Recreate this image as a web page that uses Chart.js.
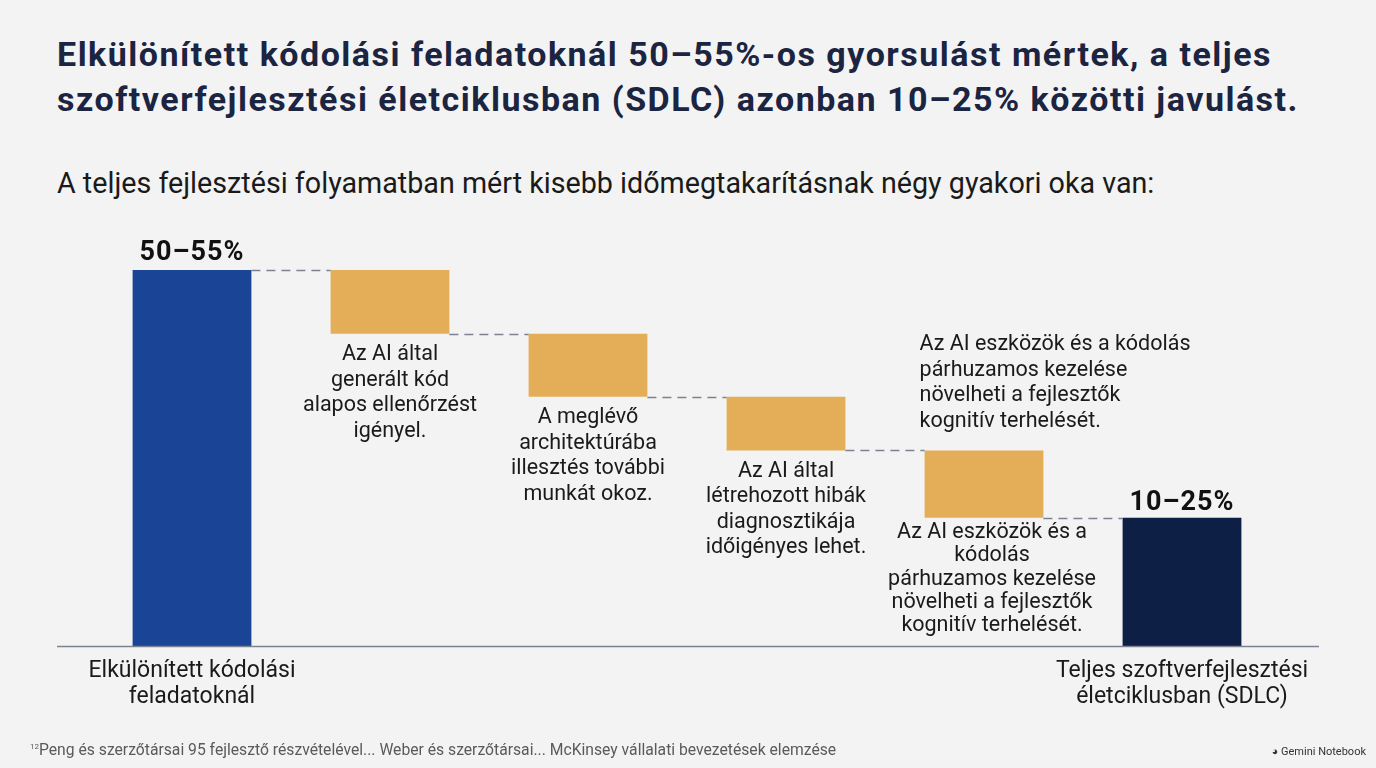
<!DOCTYPE html>
<html lang="hu">
<head>
<meta charset="utf-8">
<title>Waterfall</title>
<script src="https://cdn.jsdelivr.net/npm/chart.js@4.4.1/dist/chart.umd.min.js"></script>
<style>
  html, body { margin: 0; padding: 0; }
  body { width: 1376px; height: 768px; background: #f3f3f3; position: relative; overflow: hidden; font-family: Roboto, "Noto Sans", sans-serif; }
  #title { position: absolute; left: 57px; top: 32px; margin: 0; font-size: 34px; line-height: 45px; font-weight: 700; letter-spacing: 1.5px; color: #1b2440; white-space: nowrap; }
  #subtitle { position: absolute; left: 57px; top: 164px; margin: 0; font-size: 28.7px; line-height: 38px; color: #1a1a1a; white-space: nowrap; }
  #chart { position: absolute; left: 0; top: 0; }
  #note { position: absolute; left: 30px; top: 740px; font-size: 15.7px; color: #5a5a5a; white-space: nowrap; }
  #note sup { font-size: 8px; vertical-align: 6px; }
  #brand { position: absolute; right: 10px; top: 745px; font-size: 11px; color: #333; }
</style>
</head>
<body>
<h1 id="title">Elkülönített kódolási feladatoknál 50–55%-os gyorsulást mértek, a teljes<br>szoftverfejlesztési életciklusban (SDLC) azonban 10–25% közötti javulást.</h1>
<p id="subtitle">A teljes fejlesztési folyamatban mért kisebb időmegtakarításnak négy gyakori oka van:</p>
<canvas id="chart" width="1376" height="768"></canvas>
<div id="note"><sup>12</sup>Peng és szerzőtársai 95 fejlesztő részvételével... Weber és szerzőtársai... McKinsey vállalati bevezetések elemzése</div>
<div id="brand">&#9685; Gemini Notebook</div>
<script>
// categories (only the first and last carry an axis label)
const categories = [
  ['Elkülönített kódolási', 'feladatoknál'],
  '', '', '', '',
  ['Teljes szoftverfejlesztési', 'életciklusban (SDLC)']
];

// running level after each step (start, after each of the 4 reasons = end)
const levels = [52.5, 43.6, 34.8, 27.3, 17.9];

// labels above the total bars
const totalLabels = ['50–55%', '10–25%'];

// texts under the reason bars
const reasonTexts = [
  ['Az AI által', 'generált kód', 'alapos ellenőrzést', 'igényel.'],
  ['A meglévő', 'architektúrába', 'illesztés további', 'munkát okoz.'],
  ['Az AI által', 'létrehozott hibák', 'diagnosztikája', 'időigényes lehet.'],
  ['Az AI eszközök és a', 'kódolás', 'párhuzamos kezelése', 'növelheti a fejlesztők', 'kognitív terhelését.']
];

// text above the last reason bar
const lastReasonTop = ['Az AI eszközök és a kódolás', 'párhuzamos kezelése', 'növelheti a fejlesztők', 'kognitív terhelését.'];

const yMax = 55;

// floating bars built from the levels
const barData = [[0, levels[0]]];
for (let i = 1; i < levels.length; i++) {
  barData.push([levels[i], levels[i - 1]]);
}
barData.push([0, levels[levels.length - 1]]);

const barColors = ['#1a4597', '#e3ae57', '#e3ae57', '#e3ae57', '#e3ae57', '#0d1f44'];

const waterfallPlugin = {
  id: 'waterfall',
  afterDatasetsDraw(chart) {
    const ctx = chart.ctx;
    const meta = chart.getDatasetMeta(0);
    const y = chart.scales.y;
    const area = chart.chartArea;

    ctx.save();

    // baseline
    ctx.strokeStyle = '#7c8292';
    ctx.lineWidth = 1.5;
    ctx.beginPath();
    ctx.moveTo(57, area.bottom + 0.5);
    ctx.lineTo(1319, area.bottom + 0.5);
    ctx.stroke();

    // dashed connectors
    ctx.setLineDash([9, 6]);
    for (let i = 0; i < meta.data.length - 1; i++) {
      const a = meta.data[i];
      const b = meta.data[i + 1];
      const yy = Math.round(y.getPixelForValue(levels[i])) + 0.5;
      ctx.beginPath();
      ctx.moveTo(a.x + a.width / 2, yy);
      ctx.lineTo(b.x - b.width / 2, yy);
      ctx.stroke();
    }
    ctx.setLineDash([]);

    // total labels
    ctx.fillStyle = '#111111';
    ctx.font = 'bold 27px Roboto';
    ctx.letterSpacing = '1px';
    ctx.textAlign = 'center';
    ctx.textBaseline = 'alphabetic';
    const first = meta.data[0];
    const last = meta.data[meta.data.length - 1];
    ctx.fillText(totalLabels[0], first.x, first.y - 10);
    ctx.fillText(totalLabels[1], last.x, last.y - 8);
    ctx.letterSpacing = '0px';

    // reason texts under the orange bars
    ctx.font = '21.5px Roboto';
    ctx.fillStyle = '#1a1a1a';
    ctx.textBaseline = 'middle';
    reasonTexts.forEach((lines, i) => {
      const bar = meta.data[i + 1];
      const isLast = i === reasonTexts.length - 1;
      const lh = isLast ? 23.3 : 25.5;
      const startY = bar.base + (isLast ? 15 : 21);
      const cx = bar.x + (isLast ? 8 : 0);
      lines.forEach((t, k) => ctx.fillText(t, cx, startY + k * lh));
    });

    // text above the last reason bar
    ctx.textAlign = 'left';
    const r = meta.data[4];
    lastReasonTop.forEach((t, k) => ctx.fillText(t, r.x - r.width / 2 - 5, 345 + k * 25.5));

    ctx.restore();
  }
};

new Chart(document.getElementById('chart').getContext('2d'), {
  type: 'bar',
  data: {
    labels: categories,
    datasets: [{
      data: barData,
      backgroundColor: barColors,
      borderWidth: 0,
      borderSkipped: false,
      barPercentage: 0.6,
      categoryPercentage: 1.0
    }]
  },
  options: {
    responsive: false,
    animation: false,
    layout: { padding: { left: 93, right: 95, top: 252, bottom: 0 } },
    plugins: {
      legend: { display: false },
      tooltip: { enabled: false }
    },
    scales: {
      x: {
        grid: { display: false, drawTicks: false },
        border: { display: false },
        ticks: {
          color: '#1a1a1a',
          padding: 13,
          maxRotation: 0,
          autoSkip: false,
          font: { family: 'Roboto', size: 23, lineHeight: 1.1 }
        },
        afterFit: (scale) => { scale.height = 122; }
      },
      y: {
        display: false,
        min: 0,
        max: yMax
      }
    }
  },
  plugins: [waterfallPlugin]
});
</script>
</body>
</html>
